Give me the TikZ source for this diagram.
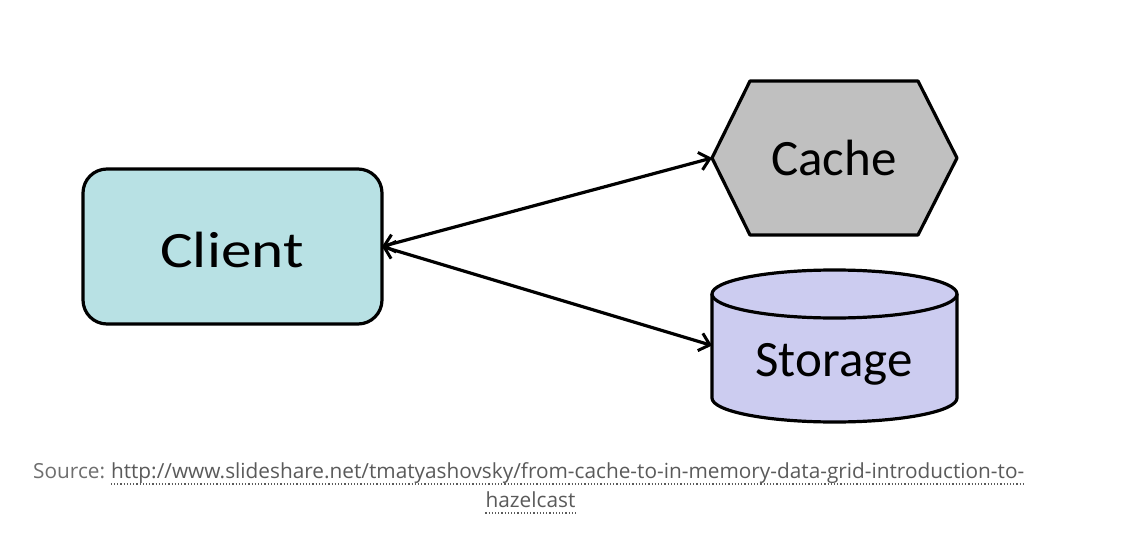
\documentclass[tikz,border=0pt]{standalone}
\usepackage{fontspec}
\setmainfont{Carlito}
\newfontfamily\clientfont[FakeStretch=1.2]{Carlito}
\newfontfamily\capfont{Open Sans}
\usetikzlibrary{arrows.meta}
\definecolor{clientfill}{HTML}{B8E1E4}
\definecolor{cachefill}{HTML}{C0C0C0}
\definecolor{storefill}{HTML}{CCCCF0}
\definecolor{capgray}{HTML}{6E6E6E}
\definecolor{urlgray}{HTML}{5A5A5A}
\tikzset{
  shapeline/.style={draw=black, line width=3.2pt, line join=round},
  lbl/.style={font=\fontsize{51}{51}\selectfont, anchor=base, inner sep=0pt},
  anchorbox/.style={inner sep=0pt, outer sep=0pt},
  link/.style={line width=3.2pt, {Straight Barb[length=10pt,width=18pt,line width=3pt]}-{Straight Barb[length=10pt,width=18pt,line width=3pt]}},
  captext/.style={font=\capfont\fontsize{20.8}{20.8}\selectfont, text=capgray, anchor=base west, inner sep=0pt},
  uline/.style={draw=urlgray, line width=1.2pt, dotted}
}
\begin{document}
\begin{tikzpicture}[x=1pt,y=-1pt]
\useasboundingbox (0,0) rectangle (1146,535);
% Client
\node[anchorbox, shapeline, fill=clientfill, rounded corners=24pt,
      minimum width=299pt, minimum height=155pt] (client) at (232.5,246.5) {};
\node[lbl, font=\clientfont\fontsize{51}{51}\selectfont] (clienttxt) at (232,267) {Client};
% Cache hexagon
\node[anchorbox, minimum width=245pt, minimum height=154pt] (cache) at (834.5,158) {};
\draw[shapeline, fill=cachefill] (cache.west) -- (750,81) -- (918,81) -- (cache.east) -- (918,235) -- (750,235) -- cycle;
\node[lbl] (cachetxt) at (834,175) {Cache};
% Storage cylinder
\node[anchorbox, minimum width=245pt, minimum height=153pt] (storage) at (834.5,345.5) {};
\draw[shapeline, fill=storefill] (712,294) -- (712,398) arc[start angle=180, end angle=360, x radius=122.5pt, y radius=24pt] -- (957,294);
\draw[shapeline, fill=storefill] (834.5,294) ellipse[x radius=122.5pt, y radius=24pt];
\node[lbl] (storagetxt) at (834,376) {Storage};
% connectors
\draw[link] (client.east) -- (cache.west);
\draw[link] (client.east) -- (storage.west);
% caption
\node[captext] (src) at (33,478) {Source:\kern5.5pt};
\node[captext, text=urlgray, anchor=base west] (url1) at (src.base east) {http://www.slideshare.net/tmatyashovsky/from-cache-to-in-memory-data-grid-introduction-to-};
\node[captext, text=urlgray, anchor=base] (url2) at (530.5,507) {hazelcast};
\draw[uline] ([yshift=-6pt]url1.base west) -- ([yshift=-6pt]url1.base east);
\draw[uline] ([yshift=-6pt]url2.base west) -- ([yshift=-6pt]url2.base east);
\end{tikzpicture}
\end{document}
